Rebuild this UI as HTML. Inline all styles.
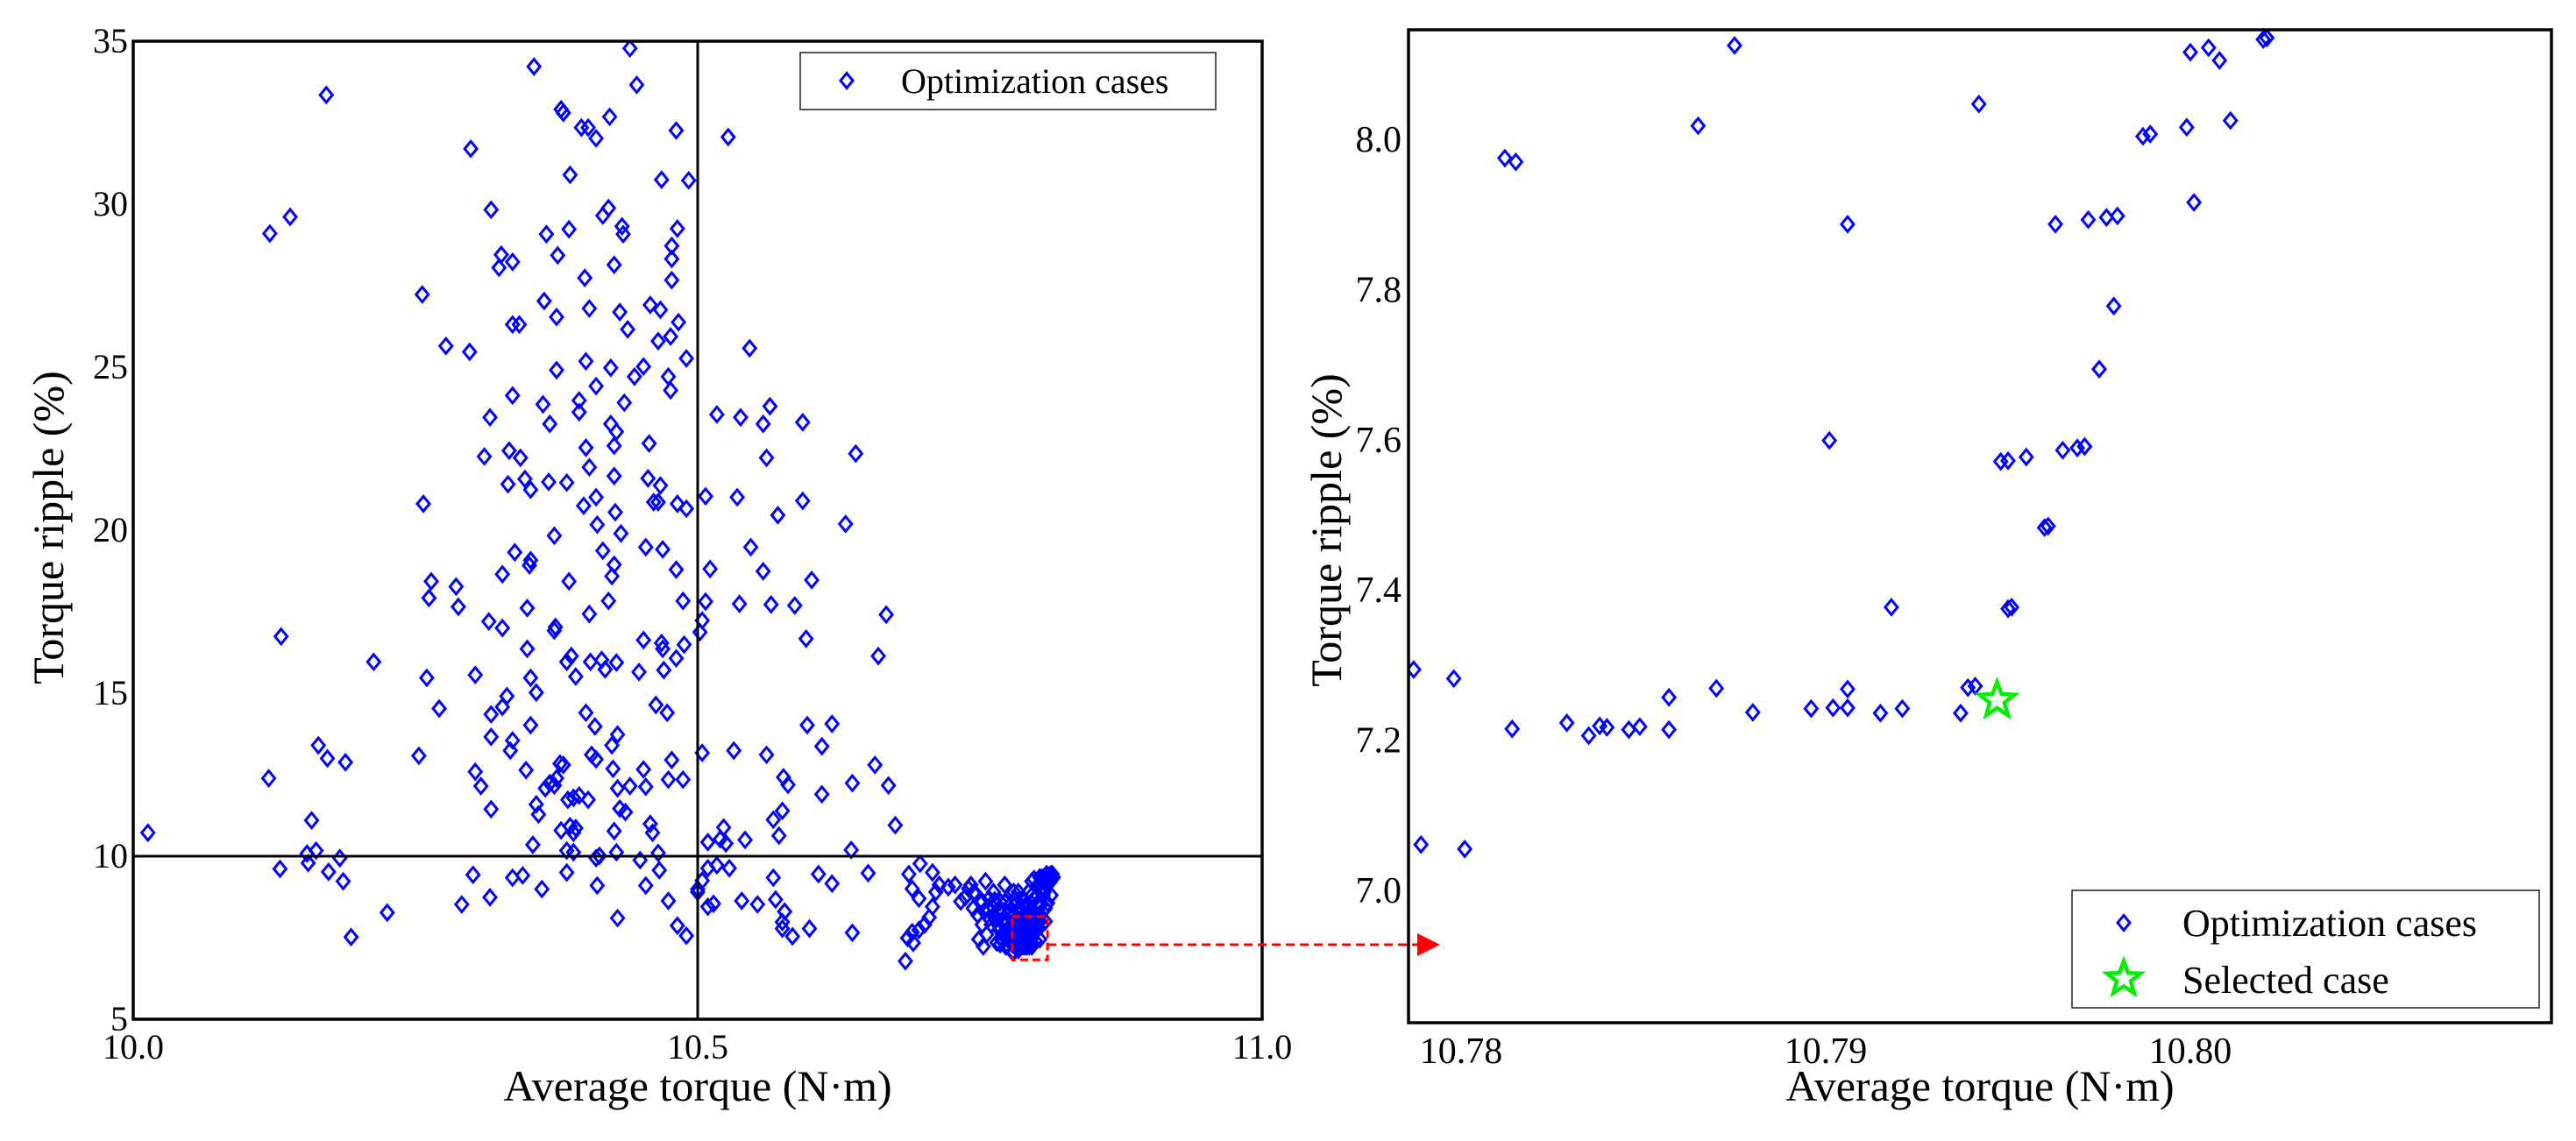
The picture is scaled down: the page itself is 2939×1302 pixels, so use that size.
<!DOCTYPE html>
<html><head><meta charset="utf-8">
<style>
html,body{margin:0;padding:0;background:#fff;}
svg{display:block;}
svg text{font-family:"Liberation Serif","Times New Roman",serif;}
</style></head>
<body>
<svg id="chart" width="2939" height="1302" viewBox="0 0 2939 1302" xmlns="http://www.w3.org/2000/svg" font-family="Liberation Serif, serif">
<g id="left"></g>
<g id="right"></g>
<g id="arrowg"></g>
</svg>
<script>
// ---- data ----
const leftX = [10.013,10.171,10.121,10.139,10.131,10.120,10.130,10.158,10.164,10.172,10.188,10.154,10.155,10.162,10.173,10.183,10.186,10.193,10.213,10.225,10.256,10.257,10.260,10.264,10.262,10.271,10.277,10.286,10.288,10.253,10.291,10.301,10.298,10.299,10.303,10.303,10.308,10.311,10.316,10.317,10.315,10.317,10.317,10.317,10.316,10.327,10.327,10.326,10.324,10.336,10.336,10.342,10.336,10.333,10.343,10.332,10.347,10.352,10.338,10.352,10.351,10.349,10.349,10.331,10.327,10.352,10.357,10.352,10.336,10.334,10.348,10.357,10.359,10.354,10.336,10.345,10.362,10.355,10.364,10.366,10.376,10.375,10.375,10.363,10.369,10.368,10.384,10.373,10.374,10.373,10.384,10.388,10.392,10.365,10.369,10.378,10.381,10.375,10.373,10.379,10.387,10.385,10.390,10.395,10.403,10.392,10.390,10.384,10.390,10.384,10.379,10.381,10.387,10.386,10.386,10.400,10.404,10.395,10.395,10.401,10.410,10.401,10.404,10.410,10.399,10.411,10.416,10.404,10.405,10.415,10.421,10.418,10.428,10.401,10.409,10.406,10.410,10.424,10.429,10.425,10.410,10.413,10.411,10.397,10.403,10.410,10.422,10.416,10.421,10.426,10.431,10.438,10.423,10.435,10.423,10.428,10.426,10.426,10.427,10.432,10.424,10.426,10.429,10.431,10.436,10.426,10.428,10.429,10.440,10.433,10.434,10.440,10.446,10.444,10.452,10.448,10.449,10.454,10.452,10.452,10.454,10.458,10.460,10.454,10.457,10.458,10.456,10.461,10.465,10.465,10.467,10.467,10.468,10.468,10.469,10.463,10.473,10.470,10.469,10.466,10.465,10.474,10.476,10.476,10.477,10.477,10.477,10.481,10.482,10.483,10.482,10.481,10.481,10.487,10.490,10.490,10.488,10.492,10.474,10.477,10.474,10.487,10.482,10.490,10.500,10.500,10.504,10.509,10.509,10.514,10.517,10.504,10.507,10.502,10.504,10.507,10.511,10.517,10.527,10.523,10.520,10.509,10.525,10.528,10.532,10.535,10.537,10.538,10.546,10.539,10.542,10.547,10.553,10.558,10.561,10.564,10.558,10.565,10.561,10.567,10.567,10.569,10.572,10.575,10.576,10.580,10.571,10.577,10.575,10.584,10.575,10.586,10.593,10.593,10.596,10.597,10.601,10.599,10.607,10.610,10.610,10.619,10.619,10.631,10.636,10.637,10.637,10.640,10.651,10.657,10.660,10.667,10.669,10.675,
10.687,10.697,10.708,10.690,10.696,10.708,10.705,10.701,10.696,10.690,10.686,10.691,10.684,10.711,10.714,10.722,10.728,10.733,10.737,10.742,10.751,10.749,10.753,10.758,10.755,10.764,10.766,10.770,10.773,10.772,10.777,10.781,10.784,10.788,10.790,10.792,10.796,10.799,10.801,10.803,10.805,10.807,10.809,10.812,10.814,10.810,10.808,10.803,10.796,10.784,
10.776,10.779,10.782,10.786,10.789,10.793,10.797,10.800,10.804,10.806,10.778,10.783,10.787,10.791,10.795,10.798,10.802,10.768,10.772,10.780,10.785,10.790,10.794,10.799,10.805,10.811,10.762,10.771,10.775,10.781,
10.765,10.769,10.774,10.778,10.783,10.788,10.793,10.798,10.803,10.808,10.813,10.767,10.772,10.777,10.782,10.787,10.792,10.797,10.802,10.807,10.812,10.760,10.764,10.769,10.774,10.779,10.784,10.789,10.794,10.799,10.804,10.809,10.814,10.766,10.771,10.776,10.781,10.786,10.791,10.796,10.801,10.806,10.811,10.815,10.758,10.763,10.768,10.773,10.778,10.783,10.788,10.793,10.798,10.803,10.808,10.813,10.744,10.748,10.752,10.756,10.746,10.750,10.754,10.758,10.740,10.745];
const leftY = [10.72,33.35,29.10,29.61,16.74,12.39,9.61,11.10,13.40,13.00,12.88,10.08,9.79,10.17,9.52,9.94,9.23,7.52,15.96,8.27,27.23,20.81,15.47,18.43,17.92,14.53,25.65,18.27,17.65,13.08,8.52,9.43,25.47,31.70,15.56,12.59,12.15,22.26,23.46,29.83,17.20,14.35,13.66,11.44,8.74,18.65,17.00,28.45,28.05,28.23,26.31,26.31,24.13,22.44,22.22,21.41,21.57,21.24,19.32,19.08,18.92,17.61,16.36,14.91,14.58,15.47,15.02,14.02,13.55,13.24,12.64,11.59,11.28,10.35,9.34,9.41,8.99,34.22,27.03,29.08,28.43,26.54,24.91,23.86,23.26,21.48,21.46,19.83,17.03,16.92,15.96,16.14,15.51,12.08,12.24,12.84,12.80,12.39,12.17,10.79,10.92,11.73,11.79,11.86,11.73,10.86,10.72,10.17,10.12,9.50,32.91,32.80,30.90,29.23,18.43,27.74,26.80,23.98,23.62,25.18,24.42,22.53,21.93,21.01,20.75,20.17,19.37,17.43,15.96,16.02,17.83,15.73,15.94,14.40,13.98,13.11,12.97,13.40,13.73,12.68,9.94,10.01,9.10,32.35,32.35,32.02,32.68,29.65,29.88,28.14,26.69,26.16,24.98,23.91,23.26,23.02,22.59,21.66,20.55,19.90,18.59,18.94,12.08,11.46,11.35,10.77,10.12,8.10,12.15,29.32,29.08,34.78,33.66,24.71,25.02,15.65,9.88,9.10,16.63,12.66,12.13,10.99,10.72,19.48,22.66,26.91,21.59,20.86,20.86,25.80,21.37,26.76,30.75,16.54,16.36,14.64,14.40,15.71,19.41,9.57,10.10,24.71,24.29,25.94,27.67,28.32,28.72,32.26,29.25,26.38,20.81,18.79,16.07,17.83,20.66,25.27,16.49,30.73,8.63,12.95,12.35,12.35,7.87,7.56,8.99,8.90,9.25,9.63,8.45,8.54,9.72,13.17,21.04,16.87,17.23,17.81,18.81,23.55,32.06,10.88,10.52,10.43,10.39,9.63,13.24,21.01,17.74,23.46,25.58,8.63,10.50,19.48,8.52,23.26,22.22,23.80,18.74,17.72,13.11,9.34,11.12,8.67,10.63,11.39,12.42,12.19,20.46,8.30,7.98,7.54,7.78,17.69,20.90,23.31,16.67,14.02,18.47,7.78,9.45,11.90,13.37,9.16,14.06,20.19,10.19,12.24,7.65,22.35,9.48,12.80,16.14,17.41,12.17,10.95,
9.45,9.77,9.50,9.00,8.70,8.45,8.12,7.90,7.74,7.67,7.49,7.34,6.78,8.90,9.12,9.05,9.12,8.61,8.74,9.12,8.65,7.45,7.23,8.34,9.23,8.56,7.90,7.45,7.23,9.12,8.34,7.67,8.90,8.12,7.23,8.56,9.23,7.67,8.79,8.23,9.34,9.00,9.45,9.34,9.45,8.56,8.00,7.45,7.23,7.12,
7.40,7.60,7.90,8.30,8.60,8.90,8.20,7.80,8.50,8.80,8.10,7.50,8.00,8.40,7.70,8.70,9.10,7.30,8.60,8.90,8.40,8.20,7.60,7.40,7.90,9.20,8.90,8.00,7.50,8.70,
7.35,7.45,7.30,7.35,7.30,7.40,7.50,7.70,8.00,8.40,8.80,7.75,7.65,7.55,7.55,7.60,7.70,8.10,8.50,8.90,9.20,7.90,8.05,8.00,7.95,7.90,7.85,8.00,8.30,8.70,9.00,9.25,9.30,8.35,8.30,8.25,8.20,8.30,8.50,8.80,9.10,9.25,9.40,9.35,8.70,8.65,8.60,8.60,8.55,8.60,8.70,8.90,9.30,9.35,9.40,9.45,8.40,8.20,7.90,7.60,8.80,8.60,8.30,8.10,9.00,8.90];

const zoomX = [10.7875,10.7865,10.7812,10.7815,10.7942,10.8000,10.8005,10.8008,10.8020,10.8021,10.8011,10.7999,10.7987,10.7989,10.8001,10.7906,10.7963,10.7972,10.7977,10.7980,10.7979,10.7975,10.7901,10.7948,10.7950,10.7955,10.7965,10.7969,10.7971,10.7971,10.7960,10.7961,10.7918,10.7950,10.7951,10.7787,10.7798,10.7814,10.7829,10.7835,10.7838,10.7840,10.7846,10.7849,10.7857,10.7857,10.7870,10.7880,10.7896,10.7902,10.7906,10.7906,10.7915,10.7921,10.7937,10.7939,10.7941,10.7789,10.7801];
const zoomY = [8.125,8.018,7.975,7.970,8.047,8.116,8.122,8.105,8.133,8.135,8.025,8.016,8.004,8.007,7.916,7.887,7.887,7.893,7.896,7.898,7.778,7.694,7.599,7.571,7.572,7.577,7.586,7.589,7.591,7.591,7.483,7.485,7.377,7.375,7.377,7.294,7.282,7.215,7.223,7.206,7.219,7.217,7.214,7.218,7.214,7.257,7.269,7.237,7.242,7.243,7.243,7.268,7.236,7.242,7.236,7.270,7.272,7.061,7.055];
const selectedX = [10.7947];
const selectedY = [7.253];

const leftXTicks = [10.0,10.5,11.0];
const leftXTickLabels = ["10.0","10.5","11.0"];
const leftYTicks = [5,10,15,20,25,30,35];
const rightXTicks = [10.78,10.79,10.80];
const rightXTickLabels = ["10.78","10.79","10.80"];
const rightYTicks = [7.0,7.2,7.4,7.6,7.8,8.0];
const rightYTickLabels = ["7.0","7.2","7.4","7.6","7.8","8.0"];
const refLineX = [10.5];
const refLineY = [10];

// ---- axes ----
const NS = "http://www.w3.org/2000/svg";
function mk(tag, attrs, parent){ const e=document.createElementNS(NS,tag); for(const k in attrs) e.setAttribute(k,attrs[k]); parent.appendChild(e); return e; }
function scale(d0,d1,r0,r1){ return v => r0 + (v-d0)/(d1-d0)*(r1-r0); }

const L = {x0:152,x1:1440,y0:47,y1:1163};
const lx = scale(10,11,L.x0,L.x1), ly = scale(5,35,L.y1,L.y0);
const R = {x0:1607,x1:2911,y0:34,y1:1167};
const rx = scale(10.78,10.80,1667,2499), ry = scale(7.0,8.0,1016,159);

function diamond(cx,cy,parent,name){
  const p = mk("path",{d:`M${cx},${cy-8.5} L${cx+7},${cy} L${cx},${cy+8.5} L${cx-7},${cy} Z`,fill:"none",stroke:"#0000ff","stroke-width":"3"},parent);
  
  
  return p;
}
function star(cx,cy,r,parent){
  let d=""; for(let i=0;i<10;i++){ const a=-Math.PI/2+i*Math.PI/5; const rr=i%2?r*0.42:r; d+=(i?"L":"M")+(cx+rr*Math.cos(a)).toFixed(1)+","+(cy+rr*Math.sin(a)).toFixed(1); }
  return mk("path",{d:d+"Z",fill:"none",stroke:"#00ee00","stroke-width":"4.5","stroke-linejoin":"miter"},parent);
}
function text(str,x,y,size,anchor,parent,name,rot){
  const t = mk("text",{x:x,y:y,"font-size":size,"text-anchor":anchor,fill:"#000","font-family":"Liberation Serif, serif"},parent);
  if(rot) t.setAttribute("transform",`rotate(-90 ${x} ${y})`);
  t.textContent=str;
  
  
  return t;
}

// ---- left panel ----
const lg = document.getElementById("left");
const lclip = mk("clipPath",{id:"lclip"},lg); mk("rect",{x:L.x0,y:L.y0,width:L.x1-L.x0,height:L.y1-L.y0},lclip);
const lpts = mk("g",{"clip-path":"url(#lclip)"},lg);


for(let i=0;i<leftX.length;i++) diamond(lx(leftX[i]),ly(leftY[i]),lpts,'optimization-case-point');
for(let i=0;i<zoomX.length;i++) diamond(lx(zoomX[i]),ly(zoomY[i]),lpts,'optimization-case-point');
refLineX.forEach(v=>{ const l=mk("line",{x1:lx(v),x2:lx(v),y1:L.y0,y2:L.y1,stroke:"#000","stroke-width":"3"},lg);
  
   });
refLineY.forEach(v=>{ const l=mk("line",{x1:L.x0,x2:L.x1,y1:ly(v),y2:ly(v),stroke:"#000","stroke-width":"3"},lg);
  
   });
const lframe = mk("rect",{x:L.x0,y:L.y0,width:L.x1-L.x0,height:L.y1-L.y0,fill:"none",stroke:"#000","stroke-width":"3.5"},lg);


leftYTicks.forEach(v=>text(String(v),L.x0-6,ly(v)+13,40,"end",lg,'y-tick-label'));
leftXTicks.forEach((v,i)=>text(leftXTickLabels[i],lx(v),1208,40,"middle",lg,'x-tick-label'));
text("Average torque (N·m)",(L.x0+L.x1)/2,1256,50,"middle",lg,'x-axis-title');
text("Torque ripple (%)",72,602,50,"middle",lg,'y-axis-title',true);
// legend
const lleg = mk("g",{},lg);


mk("rect",{x:913,y:60,width:474,height:65,fill:"#fff",stroke:"#555","stroke-width":"2"},lleg);
diamond(966,92,lleg,'legend-marker-optimization');
text("Optimization cases",1028,106,40,"start",lleg,'legend-label-optimization');
// zoom box
const zb = mk("rect",{x:lx(10.7786),y:ly(8.15),width:lx(10.8099)-lx(10.7786),height:ly(6.82)-ly(8.15),fill:"none",stroke:"#ff0000","stroke-width":"3","stroke-dasharray":"9,5"},lg);



// ---- right panel ----
const rg = document.getElementById("right");
const rclip = mk("clipPath",{id:"rclip"},rg); mk("rect",{x:R.x0,y:R.y0,width:R.x1-R.x0,height:R.y1-R.y0},rclip);
const rpts = mk("g",{"clip-path":"url(#rclip)"},rg);


for(let i=0;i<zoomX.length;i++) diamond(rx(zoomX[i]),ry(zoomY[i]),rpts,'optimization-case-point');
for(let i=0;i<selectedX.length;i++){ const s=star(rx(selectedX[i]),ry(selectedY[i]),21,rpts);
  
   }
const rframe = mk("rect",{x:R.x0,y:R.y0,width:R.x1-R.x0,height:R.y1-R.y0,fill:"none",stroke:"#000","stroke-width":"3.5"},rg);


rightYTicks.forEach((v,i)=>text(rightYTickLabels[i],R.x0-8,ry(v)+14,42,"end",rg,'y-tick-label'));
rightXTicks.forEach((v,i)=>text(rightXTickLabels[i],rx(v),1213,42,"middle",rg,'x-tick-label'));
text("Average torque (N·m)",2259,1256,50,"middle",rg,'x-axis-title');
text("Torque ripple (%)",1530,605,50,"middle",rg,'y-axis-title',true);
const rleg = mk("g",{},rg);


mk("rect",{x:2364,y:1016,width:533,height:134,fill:"#fff",stroke:"#555","stroke-width":"2"},rleg);
diamond(2423,1053,rleg,'legend-marker-optimization');
text("Optimization cases",2490,1068,44,"start",rleg,'legend-label-optimization');
star(2423,1117,20,rleg);
text("Selected case",2490,1133,44,"start",rleg,'legend-label-selected');

// ---- connector arrow ----
const ag = document.getElementById("arrowg");
const ay = 1078;
mk("line",{x1:lx(10.8099),x2:1617,y1:ay,y2:ay,stroke:"#ff0000","stroke-width":"3","stroke-dasharray":"10,6"},ag);
mk("path",{d:`M1617,${ay-13} L1643,${ay} L1617,${ay+13} Z`,fill:"#ff0000"},ag);
</script>
</body></html>
